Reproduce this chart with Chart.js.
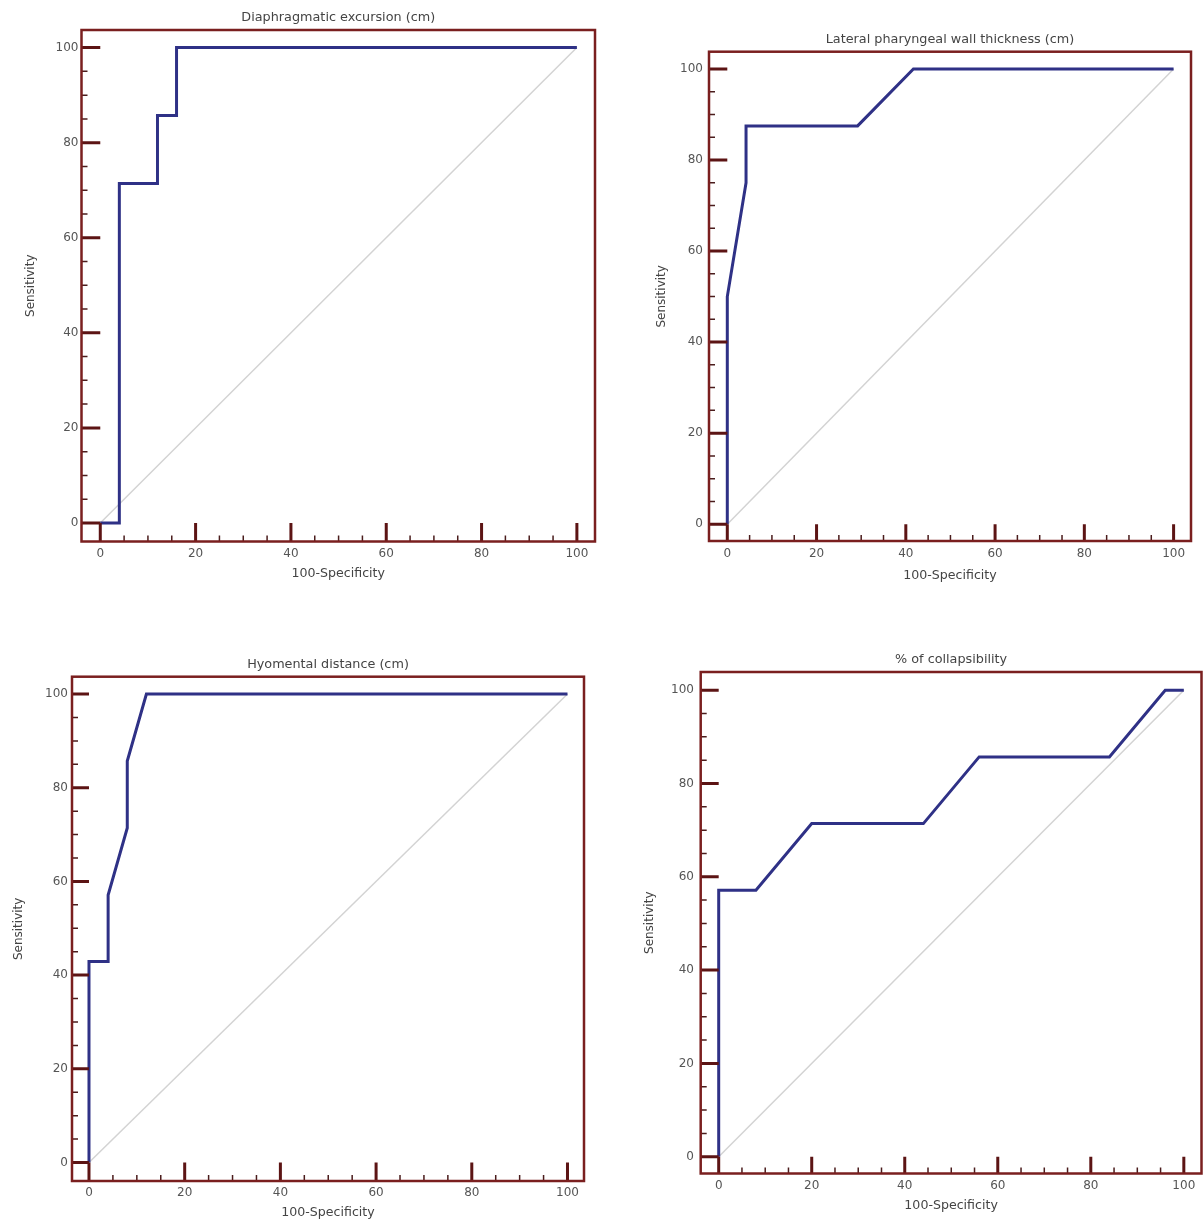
<!DOCTYPE html>
<html><head><meta charset="utf-8">
<script src="https://cdn.jsdelivr.net/npm/chart.js@4.4.0/dist/chart.umd.min.js"></script>
<style>
html,body{margin:0;padding:0;background:#fff;width:1203px;height:1220px;overflow:hidden;}
canvas{position:absolute;}
</style></head><body>
<canvas id="c1"></canvas><canvas id="c2"></canvas><canvas id="c3"></canvas><canvas id="c4"></canvas>
<script>
// ---- data ----
const tickValues = [0, 20, 40, 60, 80, 100];
const xAxisTitle = '100-Specificity';
const yAxisTitle = 'Sensitivity';
const panelTitles = ['Diaphragmatic excursion (cm)', 'Lateral pharyngeal wall thickness (cm)', 'Hyomental distance (cm)', '% of collapsibility'];

const diaphragmX = [0, 4, 4, 12, 12, 16, 16, 100];
const diaphragmY = [0, 0, 71.4, 71.4, 85.7, 85.7, 100, 100];

const lateralX = [0, 0, 4.2, 4.2, 29.2, 41.7, 100];
const lateralY = [0, 50, 75, 87.5, 87.5, 100, 100];

const hyomentalX = [0, 0, 4, 4, 8, 8, 12, 100];
const hyomentalY = [0, 42.9, 42.9, 57.1, 71.4, 85.7, 100, 100];

const collapsX = [0, 0, 8, 20, 44, 56, 84, 96, 100];
const collapsY = [0, 57.1, 57.1, 71.4, 71.4, 85.7, 85.7, 100, 100];

const referenceX = [0, 100];
const referenceY = [0, 100];

// ---- drawing ----
function pts(xs, ys) { return xs.map((x, i) => ({ x: x, y: ys[i] })); }

const FONT = 'DejaVu Sans';
const TICK_FS = 12, TITLE_FS = 12.8, XT_FS = 12.6, YT_FS = 12;

const framePlugin = {
  id: 'frame',
  afterDraw(chart) {
    const { ctx, chartArea: a, scales: { x, y } } = chart;
    const x0 = x.getPixelForValue(0), y0 = y.getPixelForValue(0);
    ctx.save();
    ctx.strokeStyle = '#4a1c1c'; ctx.lineWidth = 1.5;
    ctx.beginPath();
    for (let v = 5; v < 100; v += 5) {
      if (v % 20 === 0) continue;
      const px = x.getPixelForValue(v); ctx.moveTo(px, a.bottom); ctx.lineTo(px, a.bottom - 6);
      const py = y.getPixelForValue(v); ctx.moveTo(a.left, py); ctx.lineTo(a.left + 6, py);
    }
    ctx.stroke();
    ctx.strokeStyle = '#5c1414'; ctx.lineWidth = 3;
    ctx.beginPath();
    tickValues.forEach(v => {
      const px = x.getPixelForValue(v); ctx.moveTo(px, a.bottom); ctx.lineTo(px, y0);
      const py = y.getPixelForValue(v); ctx.moveTo(a.left, py); ctx.lineTo(x0, py);
    });
    ctx.stroke();
    ctx.strokeStyle = '#7a1f1f'; ctx.lineWidth = 2.5;
    ctx.strokeRect(a.left, a.top, a.right - a.left, a.bottom - a.top);
    ctx.restore();
  }
};

const panels = [
  { id: 'c1', title: panelTitles[0], xs: diaphragmX, ys: diaphragmY, cx: 0, cy: 0, cw: 600, ch: 600,
    L: 81.5, R: 595, T: 30, B: 541.5, titleY: 17.2, xlabY: 553.8, xtitY: 574, ylabR: 78.5, ytitX: 30.6,
    xmin: -3.94, xmax: 103.8, ymin: -3.9, ymax: 103.7 },
  { id: 'c2', title: panelTitles[1], xs: lateralX, ys: lateralY, cx: 600, cy: 0, cw: 603, ch: 600,
    L: 709, R: 1191, T: 51.7, B: 541, titleY: 40, xlabY: 553.5, xtitY: 575.8, ylabR: 703, ytitX: 661.5,
    xmin: -4.1, xmax: 103.9, ymin: -3.7, ymax: 103.8 },
  { id: 'c3', title: panelTitles[2], xs: hyomentalX, ys: hyomentalY, cx: 0, cy: 630, cw: 600, ch: 590,
    L: 72, R: 584, T: 676.7, B: 1181, titleY: 665, xlabY: 1193, xtitY: 1213, ylabR: 68, ytitX: 19,
    xmin: -3.55, xmax: 103.45, ymin: -3.95, ymax: 103.7 },
  { id: 'c4', title: panelTitles[3], xs: collapsX, ys: collapsY, cx: 600, cy: 630, cw: 603, ch: 590,
    L: 700.7, R: 1201.5, T: 672, B: 1173.5, titleY: 660, xlabY: 1186, xtitY: 1206, ylabR: 694, ytitX: 650,
    xmin: -3.87, xmax: 103.8, ymin: -3.6, ymax: 103.9 }
];

panels.forEach(p => {
  const cv = document.getElementById(p.id);
  cv.width = p.cw; cv.height = p.ch;
  cv.style.left = p.cx + 'px'; cv.style.top = p.cy + 'px';
  cv.style.width = p.cw + 'px'; cv.style.height = p.ch + 'px';
  const tickFont = { family: FONT, size: TICK_FS, weight: 'normal' };
  const titleFont = { family: FONT, size: TITLE_FS, weight: 'normal' };
  const xtFont = { family: FONT, size: XT_FS, weight: 'normal' };
  const ytFont = { family: FONT, size: YT_FS, weight: 'normal' };
  const tickLH = TICK_FS * 1.2, titleLH = TITLE_FS * 1.2, xtLH = XT_FS * 1.2, ytLH = YT_FS * 1.2;
  new Chart(cv, {
    type: 'scatter',
    data: {
      datasets: [
        { data: pts(p.xs, p.ys), showLine: true, borderColor: '#2f3186', borderWidth: 3, pointRadius: 0, tension: 0, fill: false },
        { data: pts(referenceX, referenceY), showLine: true, borderColor: '#d3d3d3', borderWidth: 1.5, pointRadius: 0, fill: false }
      ]
    },
    options: {
      responsive: false, animation: false, devicePixelRatio: 1,
      layout: { padding: { left: 0, top: 0, right: p.cx + p.cw - p.R, bottom: 0 } },
      plugins: {
        legend: { display: false }, tooltip: { enabled: false },
        title: { display: true, text: p.title, fullSize: false, color: '#444', font: titleFont,
          padding: { top: p.titleY - p.cy - titleLH / 2, bottom: p.T - p.titleY - titleLH / 2 } }
      },
      scales: {
        x: {
          type: 'linear', min: p.xmin, max: p.xmax,
          afterBuildTicks: s => { s.ticks = tickValues.map(v => ({ value: v })); },
          afterFit: s => { s.height = p.cy + p.ch - p.B; },
          grid: { display: false, drawTicks: false }, border: { display: false },
          ticks: { padding: p.xlabY - p.B - tickLH / 2, color: '#555', font: tickFont, maxRotation: 0, autoSkip: false },
          title: { display: true, text: xAxisTitle, color: '#444', font: xtFont,
            padding: { top: 0, bottom: p.cy + p.ch - p.xtitY - xtLH / 2 } }
        },
        y: {
          type: 'linear', min: p.ymin, max: p.ymax,
          afterBuildTicks: s => { s.ticks = tickValues.map(v => ({ value: v })); },
          afterFit: s => { s.width = p.L - p.cx; },
          grid: { display: false, drawTicks: false }, border: { display: false },
          ticks: { padding: p.L - p.ylabR, color: '#555', font: tickFont, autoSkip: false },
          title: { display: true, text: yAxisTitle, color: '#444', font: ytFont,
            padding: { top: p.ytitX - p.cx - ytLH / 2, bottom: 0 } }
        }
      }
    },
    plugins: [framePlugin]
  });
});
</script>
</body></html>
